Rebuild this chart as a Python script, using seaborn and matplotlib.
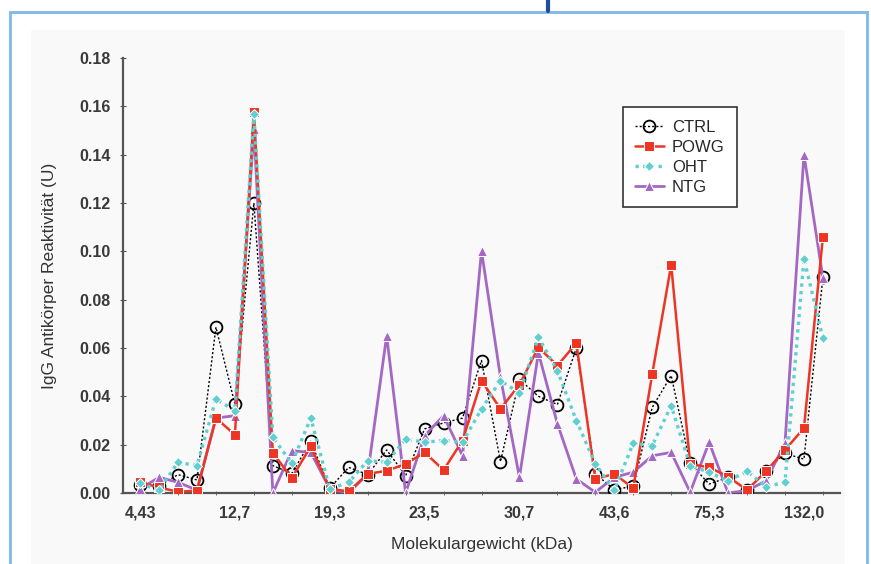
import numpy as np
import pandas as pd
import matplotlib
matplotlib.use("Agg")
import matplotlib.pyplot as plt
from matplotlib.patches import Rectangle
from matplotlib.lines import Line2D
import seaborn as sns

# ---- data ----
tick_labels = ["4,43", "12,7", "19,3", "23,5", "30,7", "43,6", "75,3", "132,0"]
tick_index = [0, 5, 10, 15, 20, 25, 30, 35]
series_names = ["CTRL", "POWG", "OHT", "NTG"]

ctrl = [0.0035, 0.003, 0.0076, 0.0054, 0.0686, 0.0368, 0.120, 0.0113, 0.0081, 0.0214,
        0.002, 0.0106, 0.0076, 0.0178, 0.0072, 0.0265, 0.029, 0.031, 0.0548, 0.013,
        0.047, 0.040, 0.0366, 0.060, 0.0079, 0.0014, 0.0028, 0.0354, 0.0486, 0.0123,
        0.0037, 0.0065, 0.0014, 0.0092, 0.0164, 0.014, 0.0894]
powg = [0.0044, 0.0023, 0.0005, 0.001, 0.031, 0.0241, 0.1575, 0.0166, 0.0062, 0.0193,
        0.0017, 0.0007, 0.0079, 0.0092, 0.012, 0.0168, 0.0095, 0.0217, 0.0465, 0.0348,
        0.0448, 0.0603, 0.0527, 0.062, 0.0058, 0.0079, 0.002, 0.0492, 0.0944, 0.012,
        0.0106, 0.0068, 0.0012, 0.009, 0.0178, 0.0269, 0.106]
oht = [0.004, 0.0012, 0.0127, 0.0113, 0.039, 0.034, 0.157, 0.023, 0.0123, 0.031,
       0.0017, 0.0044, 0.0134, 0.0127, 0.0223, 0.021, 0.0217, 0.021, 0.0348, 0.0465,
       0.0414, 0.0644, 0.0506, 0.030, 0.012, 0.0012, 0.0206, 0.0196, 0.0361, 0.0113,
       0.0086, 0.005, 0.009, 0.0026, 0.0044, 0.097, 0.064]
ntg = [0.0017, 0.0065, 0.0044, 0.0012, 0.031, 0.032, 0.1506, 0.0, 0.0175, 0.0168,
       0.0017, 0.0, 0.0079, 0.0651, 0.0, 0.0237, 0.032, 0.0154, 0.1002, 0.0479,
       0.0065, 0.058, 0.0287, 0.0058, 0.0003, 0.0065, 0.0086, 0.0154, 0.0168, 0.0003,
       0.021, 0.0, 0.001, 0.005, 0.0206, 0.14, 0.089]

x = np.arange(len(ctrl))

sns.set_style("ticks")
plt.rcParams["font.family"] = ["Liberation Sans", "DejaVu Sans"]

fig = plt.figure(figsize=(8.71, 5.64), dpi=100)
fig.patch.set_facecolor("white")

# background panel and blue frame
fig.add_artist(Rectangle((31 / 871, 0), (845 - 31) / 871, 1 - 30 / 564,
                         transform=fig.transFigure, facecolor="#f9f9f9",
                         edgecolor="none", zorder=0))
fig.add_artist(Rectangle((10 / 871, -0.05), (867 - 10) / 871, 1.05 - 12 / 564,
                         transform=fig.transFigure, facecolor="none",
                         edgecolor="#7db9e8", linewidth=2, zorder=1))
fig.add_artist(Line2D([548 / 871, 548 / 871], [1 - 11 / 564, 1.0],
                      transform=fig.transFigure, color="#1d4f9c", linewidth=3, zorder=1))

ax = fig.add_axes([123 / 871, 1 - 493 / 564, (840 - 123) / 871, (493 - 58) / 564])
ax.set_facecolor("none")

styles = {
    "CTRL": dict(color="black", marker="o", markersize=8.5, linewidth=1.0,
                 linestyle=(0, (1.5, 1.5)), markerfacecolor="none",
                 markeredgecolor="black", markeredgewidth=1.3, zorder=3),
    "NTG": dict(color="#a468c4", marker="^", markersize=7.5, linewidth=2.0, linestyle="-",
                zorder=4),
    "POWG": dict(color="#ee3524", marker="s", markersize=7, linewidth=1.8, linestyle="-",
                 zorder=5),
    "OHT": dict(color="#5fcfcf", marker="D", markersize=5, linewidth=2.4,
                linestyle=(0, (1, 1.3)), zorder=6),
}
data = {"CTRL": ctrl, "POWG": powg, "OHT": oht, "NTG": ntg}

for name in ["CTRL", "NTG", "POWG", "OHT"]:
    sns.lineplot(x=x, y=data[name], ax=ax, label=name, **styles[name])

ax.set_xlim(-0.9, 36.9)
ax.set_ylim(0, 0.18)
ax.set_yticks(np.arange(0, 0.181, 0.02))
ax.set_yticklabels([f"{v:.2f}" for v in np.arange(0, 0.181, 0.02)])
ax.set_xticks(tick_index)
ax.set_xticklabels(tick_labels)
ax.set_xticks(np.arange(0, 37, 2), minor=True)
ax.tick_params(axis="x", which="major", length=0, pad=9, labelsize=11.5,
               labelcolor="#3a3a3a")
ax.tick_params(axis="x", which="minor", length=3, direction="inout", color="#555555")
ax.tick_params(axis="y", which="major", length=4, direction="inout", pad=7,
               labelsize=11.5, labelcolor="#3a3a3a", color="#555555")
for lab in ax.get_xticklabels() + ax.get_yticklabels():
    lab.set_fontweight("semibold")

sns.despine(ax=ax)
for sp in ["left", "bottom"]:
    ax.spines[sp].set_color("#555555")
    ax.spines[sp].set_linewidth(1.6)

ax.set_xlabel("Molekulargewicht (kDa)", fontsize=12.5, color="#333333", labelpad=12)
ax.set_ylabel("IgG Antikörper Reaktivität (U)", fontsize=12.5, color="#333333", labelpad=16)

handles, labels = ax.get_legend_handles_labels()
order = [labels.index(n) for n in series_names]
leg = ax.legend([handles[i] for i in order], [labels[i] for i in order],
                loc="upper left", bbox_to_anchor=(0.697, 0.887), borderaxespad=0,
                fontsize=12, frameon=True, fancybox=False, edgecolor="#333333",
                framealpha=1, handlelength=1.7, borderpad=0.75, labelspacing=0.3,
                handletextpad=0.5)
leg.get_frame().set_linewidth(1.2)

fig.savefig("out.png", dpi=100)
